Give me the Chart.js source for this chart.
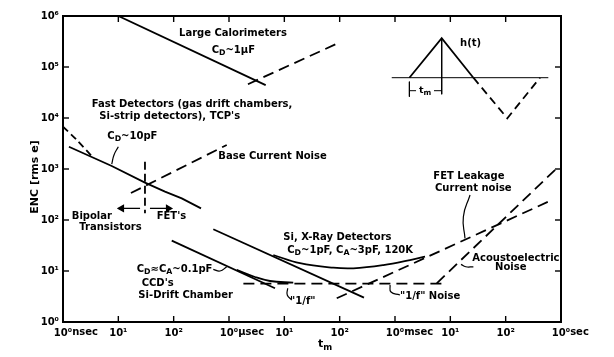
<!DOCTYPE html>
<html><head><meta charset="utf-8">
<script src="https://cdn.jsdelivr.net/npm/chart.js@4/dist/chart.umd.min.js"></script>
<style>html,body{margin:0;padding:0;background:#fff}</style>
</head><body>
<canvas id="c" width="614" height="357"></canvas>
<script>
// ---- axis ticks ----
const xTickValues = [1e-9,1e-8,1e-7,1e-6,1e-5,1e-4,1e-3,1e-2,1e-1,1];
const xTickLabels = ['10⁰','10¹','10²','10⁰','10¹','10²','10⁰','10¹','10²','10⁰'];
const xTickUnits  = ['nsec','','','μsec','','','msec','','','sec'];
const yTickValues = [1,10,100,1e3,1e4,1e5,1e6];
const yTickLabels = ['10⁰','10¹','10²','10³','10⁴','10⁵','10⁶'];

// ---- curves (t in seconds, ENC in rms electrons) ----
const calorimeterT = [1e-8, 4.6e-6];
const calorimeterENC = [1e6, 4.4e4];
const calorimeterBaseT = [2.2e-6, 8.5e-5];
const calorimeterBaseENC = [4.6e4, 2.8e5];
const fastT = [1.28e-9, 7.6e-9, 3.03e-8, 6.97e-8, 1.40e-7, 3.12e-7];
const fastENC = [2735, 1146, 540, 359, 266, 169];
const bipolarT = [1e-9, 1.77e-9, 3.34e-9];
const bipolarENC = [6760, 3710, 1760];
const baseCurrentT = [1.69e-8, 9.1e-7];
const baseCurrentENC = [338, 2960];
const dividerT = [3.03e-8, 3.03e-8];
const dividerENC = [1390, 135];
const bipolarArrowT = [2.47e-8, 1.15e-8];
const fetArrowT = [3.73e-8, 8.0e-8];
const arrowENC = [169, 169];
const siXrayLineT = [5.2e-7, 2.75e-4];
const siXrayLineENC = [65.8, 3.0];
const siXrayCurveT = [6.32e-6, 1.92e-5, 7.67e-5, 1.77e-4, 6.15e-4, 1.87e-3, 3.49e-3];
const siXrayCurveENC = [20.6, 14.2, 11.6, 11.3, 13.1, 16.4, 19.1];
const fetLeakT = [8.85e-5, 0.59];
const fetLeakENC = [2.92, 229];
const acoustoT = [5.68e-3, 0.838];
const acoustoENC = [5.74, 1033];
const oneOverFT = [1.82e-6, 8.0e-3];
const oneOverFENC = [5.64, 5.64];
const ccdLineT = [9.23e-8, 6.78e-6];
const ccdLineENC = [39.3, 4.58];
const ccdCurveT = [1.38e-6, 2.95e-6, 5.51e-6, 1.45e-5];
const ccdCurveENC = [10.5, 7.62, 6.37, 5.9];

// ---- inset h(t) sketch ----
const insetBaseT = [8.73e-4, 0.59];
const insetBaseENC = [6.17e4, 6.17e4];
const insetPosT = [1.82e-3, 6.98e-3, 0.0261];
const insetPosENC = [6.17e4, 3.66e5, 6.17e4];
const insetNegT = [0.0261, 0.107, 0.418];
const insetNegENC = [6.17e4, 9.86e3, 6.17e4];
const insetPeakT = [6.98e-3, 6.98e-3];
const insetPeakENC = [3.66e5, 2.92e4];
const insetBracketT = [1.82e-3, 1.82e-3];
const insetBracketENC = [5.15e4, 2.62e4];
const insetSpanLT = [1.82e-3, 2.40e-3];
const insetSpanRT = [5.07e-3, 6.98e-3];
const insetSpanENC = [3.43e4, 3.43e4];

// ---- leader lines ----
const leader10pFT = [1.0e-8, 8.35e-9, 7.6e-9];
const leader10pFENC = [2735, 1884, 1250];
const leaderFetT = [0.0227, 0.0172, 0.0184];
const leaderFetENC = [309, 116, 43.7];
const leaderAcoT = [0.0261, 0.0190, 0.0156];
const leaderAcoENC = [12.1, 12.1, 13.5];
const leader1fT = [1.23e-3, 8.47e-4, 8.13e-4];
const leader1fENC = [3.38, 3.87, 5.31];
const leader1fCcdT = [1.36e-5, 1.13e-5, 1.15e-5];
const leader1fCcdENC = [2.70, 3.38, 4.58];
const leaderCcdT = [5.2e-7, 6.89e-7, 9.1e-7];
const leaderCcdENC = [10.8, 10.0, 12.1];

// ---- text annotations (left edge, vertical middle) ----
const labels = [
  {text:'Large Calorimeters', t:1.25e-7, enc:4.64e5},
  {text:'C_D~1μF', t:4.86e-7, enc:2.15e5},
  {text:'Fast Detectors (gas drift chambers,', t:3.30e-9, enc:1.86e4},
  {text:'Si-strip detectors), TCP\'s', t:4.53e-9, enc:1.06e4},
  {text:'C_D~10pF', t:6.32e-9, enc:4436},
  {text:'Base Current Noise', t:6.41e-7, enc:1742},
  {text:'Bipolar', t:1.44e-9, enc:116},
  {text:'Transistors', t:1.97e-9, enc:71.9},
  {text:'FET\'s', t:4.93e-8, enc:116},
  {text:'Si, X-Ray Detectors', t:9.6e-6, enc:45.0},
  {text:'C_D~1pF, C_A~3pF, 120K', t:1.13e-5, enc:25.8},
  {text:'FET Leakage', t:4.93e-3, enc:729},
  {text:'Current noise', t:5.28e-3, enc:419},
  {text:'Acoustoelectric', t:0.0249, enc:17.7},
  {text:'Noise', t:0.0643, enc:11.8},
  {text:'"1/f" Noise', t:1.23e-3, enc:3.13},
  {text:'"1/f"', t:1.27e-5, enc:2.50},
  {text:'C_D≈C_A~0.1pF', t:2.15e-8, enc:10.8},
  {text:'CCD\'s', t:2.64e-8, enc:5.74},
  {text:'Si-Drift Chamber', t:2.30e-8, enc:3.28},
  {text:'h(t)', t:0.0150, enc:2.92e5},
  {text:'t_m', t:2.72e-3, enc:3.43e4, size:9.5}
];

const FONT = 'DejaVu Sans';
const LW = 1.8;
const pts = (t, e) => t.map((v, i) => ({x: v, y: e[i]}));
function ds(t, e, o = {}) {
  return Object.assign({
    data: pts(t, e), borderColor: '#000', backgroundColor: '#000',
    borderWidth: LW, pointRadius: 0, tension: 0, fill: false, borderDash: []
  }, o);
}
const DASH = [11, 6];

const datasets = [
  ds(calorimeterT, calorimeterENC),
  ds(calorimeterBaseT, calorimeterBaseENC, {borderDash: DASH}),
  ds(fastT, fastENC),
  ds(bipolarT, bipolarENC, {borderDash: [7, 4], tension: 0.3}),
  ds(baseCurrentT, baseCurrentENC, {borderDash: DASH}),
  ds(dividerT, dividerENC, {borderDash: [8, 4]}),
  ds(bipolarArrowT, arrowENC, {borderWidth: 1.3, pointRadius: [0, 3.5], pointStyle: 'triangle', pointRotation: [0, -90]}),
  ds(fetArrowT, arrowENC, {borderWidth: 1.3, pointRadius: [0, 3.5], pointStyle: 'triangle', pointRotation: [0, 90]}),
  ds(siXrayLineT, siXrayLineENC),
  ds(siXrayCurveT, siXrayCurveENC, {tension: 0.4}),
  ds(fetLeakT, fetLeakENC, {borderDash: DASH}),
  ds(acoustoT, acoustoENC, {borderDash: DASH}),
  ds(oneOverFT, oneOverFENC, {borderDash: DASH}),
  ds(ccdLineT, ccdLineENC),
  ds(ccdCurveT, ccdCurveENC, {tension: 0.4}),
  ds(insetBaseT, insetBaseENC, {borderWidth: 1}),
  ds(insetPosT, insetPosENC),
  ds(insetNegT, insetNegENC, {borderDash: [8, 5]}),
  ds(insetPeakT, insetPeakENC, {borderWidth: 1}),
  ds(insetBracketT, insetBracketENC, {borderWidth: 1}),
  ds(insetSpanLT, insetSpanENC, {borderWidth: 1}),
  ds(insetSpanRT, insetSpanENC, {borderWidth: 1}),
  ds(leader10pFT, leader10pFENC, {borderWidth: 1.2, tension: 0.5}),
  ds(leaderFetT, leaderFetENC, {borderWidth: 1.2, tension: 0.5}),
  ds(leaderAcoT, leaderAcoENC, {borderWidth: 1.2, tension: 0.5}),
  ds(leader1fT, leader1fENC, {borderWidth: 1.2, tension: 0.5}),
  ds(leader1fCcdT, leader1fCcdENC, {borderWidth: 1.2, tension: 0.5}),
  ds(leaderCcdT, leaderCcdENC, {borderWidth: 1.2, tension: 0.5})
];

function drawRich(ctx, str, x, y, size) {
  let cx = x, i = 0;
  while (i < str.length) {
    if (str[i] === '_' && i + 1 < str.length) {
      ctx.font = 'bold ' + (size * 0.78) + 'px "' + FONT + '"';
      ctx.fillText(str[i + 1], cx, y + size * 0.3);
      cx += ctx.measureText(str[i + 1]).width;
      i += 2;
    } else {
      let j = i;
      while (j < str.length && str[j] !== '_') j++;
      const seg = str.slice(i, j);
      ctx.font = 'bold ' + size + 'px "' + FONT + '"';
      ctx.fillText(seg, cx, y);
      cx += ctx.measureText(seg).width;
      i = j;
    }
  }
}

const decor = {
  id: 'decor',
  afterDraw(chart) {
    const {ctx, chartArea: a, scales: {x, y}} = chart;
    ctx.save();
    ctx.strokeStyle = '#000';
    ctx.fillStyle = '#000';
    ctx.lineWidth = 2;
    ctx.strokeRect(a.left, a.top, a.right - a.left, a.bottom - a.top);
    ctx.lineWidth = 1.4;
    const seg = (x1, y1, x2, y2) => { ctx.beginPath(); ctx.moveTo(x1, y1); ctx.lineTo(x2, y2); ctx.stroke(); };
    x.ticks.forEach(t => {
      const px = x.getPixelForValue(t.value);
      seg(px, a.bottom, px, a.bottom - 6);
      seg(px, a.top, px, a.top + 6);
    });
    y.ticks.forEach(t => {
      const py = y.getPixelForValue(t.value);
      seg(a.left, py, a.left + 6, py);
      seg(a.right, py, a.right - 6, py);
    });
    // units after tick labels
    ctx.font = 'bold 10px "' + FONT + '"';
    ctx.textBaseline = 'top';
    ctx.textAlign = 'left';
    x.ticks.forEach((t, i) => {
      if (!xTickUnits[i]) return;
      const px = x.getPixelForValue(t.value);
      const w = ctx.measureText(xTickLabels[i]).width;
      ctx.fillText(xTickUnits[i], px + w / 2, a.bottom + 5);
    });
    // annotations
    ctx.textBaseline = 'middle';
    labels.forEach(l => {
      drawRich(ctx, l.text, x.getPixelForValue(l.t), y.getPixelForValue(l.enc), l.size || 10);
    });
    // axis titles
    ctx.save();
    ctx.translate(a.left - 28, (a.top + a.bottom) / 2 + 8);
    ctx.rotate(-Math.PI / 2);
    ctx.textAlign = 'center';
    ctx.font = 'bold 11px "' + FONT + '"';
    ctx.fillText('ENC [rms e]', 0, 0);
    ctx.restore();
    ctx.textAlign = 'left';
    drawRich(ctx, 't_m', (a.left + a.right) / 2 + 6, a.bottom + 22, 11);
    ctx.restore();
  }
};

new Chart(document.getElementById('c'), {
  type: 'line',
  data: {datasets},
  options: {
    responsive: false,
    animation: false,
    devicePixelRatio: 1,
    layout: {padding: {top: 16, right: 53, left: 0, bottom: 0}},
    plugins: {legend: {display: false}, tooltip: {enabled: false}},
    scales: {
      x: {
        type: 'logarithmic', min: 1e-9, max: 1,
        afterBuildTicks: s => { s.ticks = xTickValues.map(v => ({value: v, major: true})); },
        afterFit: s => { s.height = 35; },
        ticks: {
          callback: (v, i) => xTickLabels[i],
          color: '#000', font: {family: FONT, size: 10, weight: 'bold'}, padding: 5,
          maxRotation: 0, autoSkip: false
        },
        grid: {display: false, drawTicks: false},
        border: {display: false}
      },
      y: {
        type: 'logarithmic', min: 1, max: 1e6,
        afterBuildTicks: s => { s.ticks = yTickValues.map(v => ({value: v, major: true})); },
        afterFit: s => { s.width = 63; },
        ticks: {
          callback: (v, i) => yTickLabels[i],
          color: '#000', font: {family: FONT, size: 10, weight: 'bold'}, padding: 4,
          autoSkip: false
        },
        grid: {display: false, drawTicks: false},
        border: {display: false}
      }
    }
  },
  plugins: [decor]
});
</script>
</body></html>
